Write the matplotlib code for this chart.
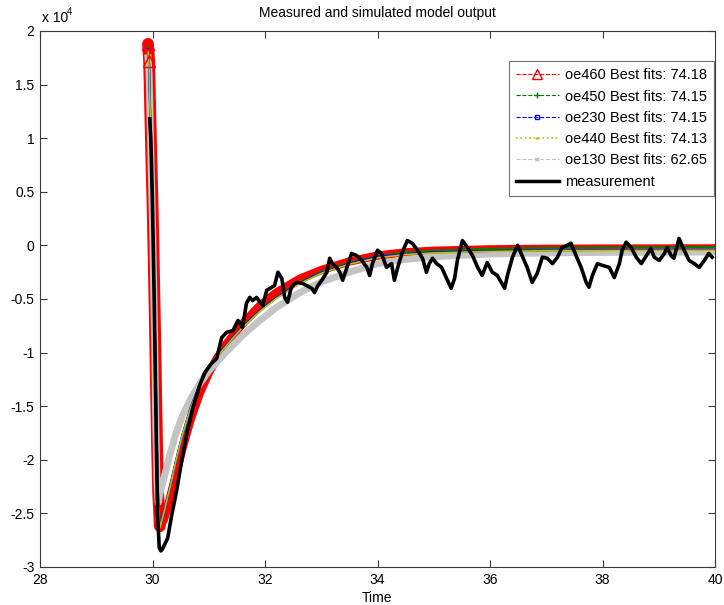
import matplotlib
matplotlib.use("Agg")
import matplotlib.pyplot as plt
from matplotlib.lines import Line2D
from matplotlib.ticker import FuncFormatter, MultipleLocator

plt.rcParams['font.family'] = ['Liberation Sans', 'DejaVu Sans']

# time base of the simulated model outputs
t_fit = [29.92, 29.94, 29.96, 29.98, 30.00, 30.02, 30.04, 30.06, 30.08, 30.10,
         30.13, 30.20, 30.31, 30.42, 30.54, 30.68, 30.84, 31.00, 31.14, 31.30,
         31.43, 31.60, 31.73, 31.91, 32.20, 32.62, 33.00, 33.50, 34.00, 34.50,
         35.00, 36.00, 37.00, 38.00, 39.00, 40.00]

oe460 = [18800, 17200, 12500, 8000, 4000, -1000, -6500, -12500, -18500, -23000,
         -26200, -25600, -23600, -21300, -18800, -16200, -13800, -11900, -10600, -9300,
         -8400, -7300, -6600, -5600, -4400, -3100, -2300, -1500, -950, -650,
         -500, -370, -320, -300, -290, -280]
oe450 = [18500, 17000, 12200, 7700, 3700, -1300, -6800, -12800, -18800, -23300,
         -26300, -25100, -22700, -20100, -17600, -15200, -13000, -11400, -10400, -9400,
         -8550, -7550, -6950, -6050, -4850, -3450, -2450, -1600, -1000, -650,
         -480, -320, -240, -200, -170, -150]
oe230 = [18300, 16800, 12000, 7500, 3500, -1500, -7000, -13000, -19000, -23500,
         -26400, -25000, -22600, -20000, -17500, -15100, -12900, -11400, -10400, -9400,
         -8600, -7600, -7000, -6100, -4900, -3500, -2550, -1700, -1050, -800,
         -650, -520, -460, -430, -410, -400]
oe440 = [18200, 16700, 11900, 7400, 3400, -1600, -7100, -13100, -19100, -23600,
         -26400, -25000, -22600, -20000, -17500, -15150, -12950, -11450, -10450, -9450,
         -8650, -7650, -7050, -6150, -4950, -3550, -2600, -1750, -1150, -850,
         -700, -560, -500, -470, -460, -450]
oe130 = [17500, 16000, 11000, 6500, 2000, -3500, -9500, -17000, -22000, -24000,
         -23200, -21800, -19500, -17500, -15800, -14300, -12900, -11700, -10900, -10000,
         -9300, -8400, -7800, -7000, -5800, -4400, -3400, -2500, -1700, -1300,
         -1050, -800, -700, -650, -630, -620]

# measured output
t_meas = [29.95, 29.97, 29.99, 30.01, 30.03, 30.05, 30.07, 30.09, 30.12, 30.15,
          30.18, 30.27, 30.34, 30.43, 30.52, 30.61, 30.72, 30.84, 30.93, 31.05,
          31.14, 31.23, 31.32, 31.43, 31.52, 31.60, 31.67, 31.73, 31.78, 31.85,
          31.91, 31.96, 32.03, 32.12, 32.17, 32.23, 32.30, 32.35, 32.40, 32.47,
          32.53, 32.58, 32.67, 32.74, 32.83, 32.88, 32.94, 33.01, 33.10, 33.15,
          33.20, 33.27, 33.33, 33.38, 33.45, 33.54, 33.63, 33.72, 33.81, 33.86,
          33.91, 34.00, 34.07, 34.16, 34.25, 34.30, 34.36, 34.44, 34.53, 34.62,
          34.71, 34.80, 34.87, 34.92, 34.98, 35.05, 35.14, 35.23, 35.31, 35.37,
          35.42, 35.51, 35.60, 35.69, 35.78, 35.86, 35.95, 36.04, 36.13, 36.26,
          36.31, 36.40, 36.49, 36.57, 36.66, 36.75, 36.84, 36.93, 37.02, 37.11,
          37.20, 37.28, 37.37, 37.44, 37.53, 37.62, 37.71, 37.76, 37.82, 37.91,
          37.99, 38.12, 38.21, 38.30, 38.35, 38.42, 38.51, 38.60, 38.69, 38.78,
          38.86, 38.92, 39.01, 39.10, 39.15, 39.22, 39.27, 39.36, 39.45, 39.54,
          39.63, 39.72, 39.81, 39.89, 39.95]
measured = [11800, 10000, 6000, 1000, -5000, -12000, -19000, -25000, -28200, -28500,
            -28300, -27300, -25200, -22850, -20050, -17550, -15100, -13050, -11850, -11000,
            -10550, -8600, -8100, -7950, -7000, -7650, -5400, -4850, -5150, -4850,
            -5300, -5600, -4200, -3900, -3750, -2500, -3100, -4850, -5300, -3900,
            -3550, -3450, -3550, -3750, -4000, -4400, -3750, -3250, -2500, -1200,
            -1700, -2050, -2500, -3250, -2150, -750, -950, -1400, -2050, -2800,
            -1700, -450, -750, -2050, -1700, -3250, -2050, -650, 450, 200,
            -450, -1200, -2500, -1700, -1200, -1700, -2050, -3100, -4000, -3100,
            -1400, 450, -200, -950, -2050, -2800, -1600, -2500, -2800, -4000,
            -2800, -1100, 0, -950, -2050, -3450, -2600, -1100, -1200, -1700,
            -1100, -200, 0, 200, -950, -2050, -3450, -3900, -2800, -1700,
            -1850, -2050, -3000, -1700, -450, 300, -200, -1100, -1700, -950,
            -300, -1100, -1400, -750, -200, -950, -1200, 650, -450, -1400,
            -1700, -2050, -1400, -750, -1100]

legend_labels = ['oe460 Best fits: 74.18', 'oe450 Best fits: 74.15',
                 'oe230 Best fits: 74.15', 'oe440 Best fits: 74.13',
                 'oe130 Best fits: 62.65', 'measurement']

fig = plt.figure(figsize=(7.24, 6.05), dpi=100)
ax = fig.add_axes([40 / 724, 1 - 567 / 605, 675 / 724, 536 / 605])

# red fit: dense markers in the original make a thick band, wider in the spike
ax.plot(t_fit, oe460, color='#ff0000', lw=6, solid_joinstyle='round',
        solid_capstyle='round', zorder=2)
ax.plot(t_fit[:11], oe460[:11], color='#ff0000', lw=8.5, solid_joinstyle='round',
        solid_capstyle='round', zorder=2)
ax.plot(t_fit[:2], oe460[:2], ls='none', marker='^', ms=8, mfc='none',
        mec='#ff0000', mew=1, zorder=8)
ax.plot(t_fit, oe130, color='#c4c4c4', lw=5, solid_joinstyle='round', zorder=3)
ax.plot(t_fit, oe450, color='#008000', lw=1.5, zorder=4)
ax.plot(t_fit, oe230, color='#0000ff', lw=1.5, zorder=5)
ax.plot(t_fit, oe440, color='#bfbf00', lw=1.2, zorder=6)
ax.plot(t_meas, measured, color='black', lw=2.6, solid_joinstyle='round', zorder=7)

ax.set_xlim(28, 40)
ax.set_ylim(-30000, 20000)
ax.xaxis.set_major_locator(MultipleLocator(2))
ax.yaxis.set_major_locator(MultipleLocator(5000))
ax.yaxis.set_major_formatter(FuncFormatter(lambda v, p: '%g' % (v / 1e4)))

for s in ax.spines.values():
    s.set_color('#3a3a3a')
    s.set_linewidth(0.8)
ax.tick_params(direction='in', length=5, width=0.8, color='#3a3a3a',
               top=True, right=True, labelsize=10, pad=4)

ax.set_title('Measured and simulated model output', fontsize=10, pad=10)
ax.set_xlabel('Time', fontsize=10, labelpad=3)

ax.text(0.003, 1.012, 'x 10', transform=ax.transAxes, fontsize=10, ha='left', va='bottom')
ax.text(0.040, 1.026, '4', transform=ax.transAxes, fontsize=7, ha='left', va='bottom')

handles = [
    Line2D([], [], color='#ff0000', ls='--', lw=0.8, marker='^', ms=7, mfc='none'),
    Line2D([], [], color='#008000', ls='--', lw=0.8, marker='+', ms=5),
    Line2D([], [], color='#0000ff', ls='--', lw=0.8, marker='s', ms=2.5, mfc='none'),
    Line2D([], [], color='#bfbf00', ls=':', lw=1.2, marker='.', ms=2),
    Line2D([], [], color='#c4c4c4', ls='--', lw=0.8, marker='x', ms=3),
    Line2D([], [], color='black', ls='-', lw=2.5),
]
leg = ax.legend(handles, legend_labels, loc='upper right', bbox_to_anchor=(0.9985, 0.944),
                borderaxespad=0, fontsize=10.5, handlelength=2.95, handletextpad=0.4,
                labelspacing=0.5, borderpad=0.5, fancybox=False, framealpha=1)
leg.get_frame().set_edgecolor('#707070')
leg.get_frame().set_linewidth(0.8)

fig.savefig('out.png', dpi=100)
